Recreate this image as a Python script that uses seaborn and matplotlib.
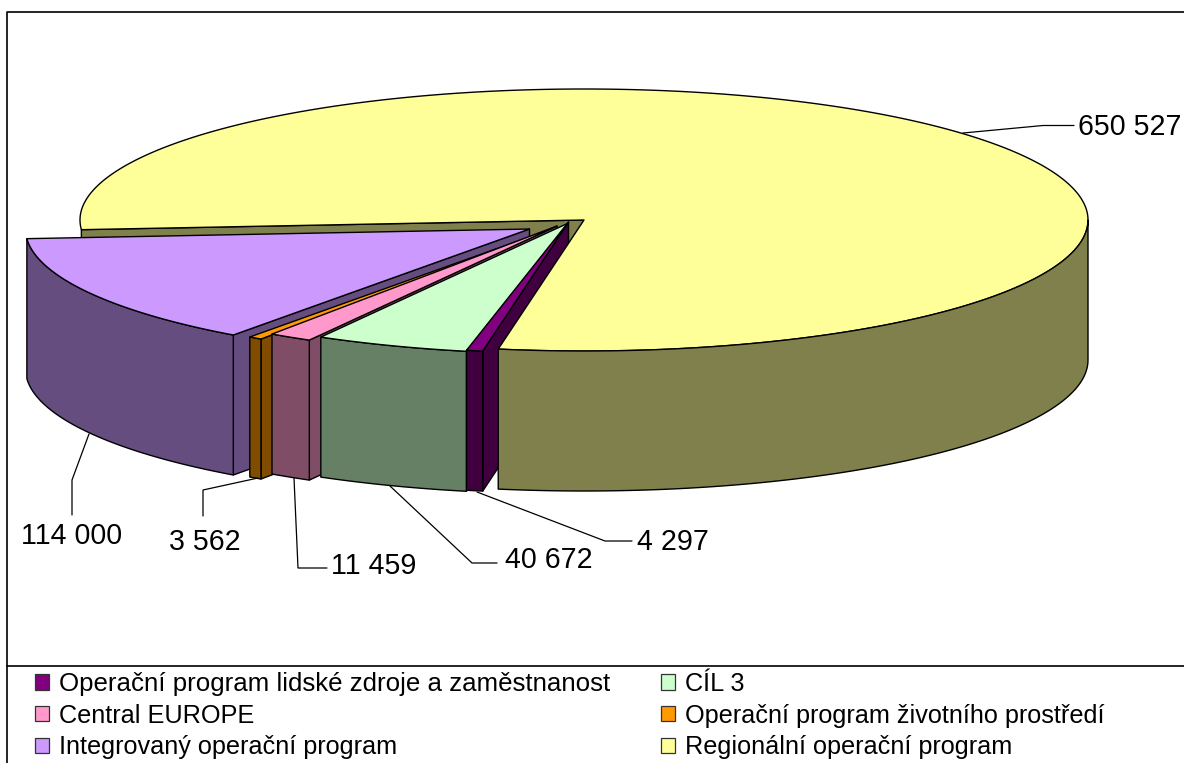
import numpy as np
import matplotlib
matplotlib.use("Agg")
import matplotlib.pyplot as plt
from matplotlib.patches import Polygon, Patch
import seaborn as sns

# ---- data -------------------------------------------------------------
programs = ["Operační program lidské zdroje a zaměstnanost", "CÍL 3", "Central EUROPE",
            "Operační program životního prostředí", "Integrovaný operační program",
            "Regionální operační program"]
values = [4297, 40672, 11459, 3562, 114000, 650527]
value_labels = ["4 297", "40 672", "11 459", "3 562", "114 000", "650 527"]
top_colors = ["#800080", "#CCFFCC", "#FF99CC", "#FF9900", "#CC99FF", "#FFFF99"]

# ---- styling / geometry of the projected 3-D pie -----------------------
slice_centres = [(568.5, 222), (568.5, 223), (557, 226), (546, 231), (529.5, 229), (584, 220)]
start_angle = 189.8      # clockwise from the top
rx, ry, depth = 504, 131, 140
leader_paths = [[(477, 492), (605, 541), (632, 541)],
                [(390, 486), (472, 563), (497, 563)],
                [(294, 478), (298, 568), (327, 568)],
                [(258, 478), (203, 490), (203, 516)],
                [(89, 434), (72, 480), (72, 515)],
                [(963, 133), (1043, 125.5), (1074, 125.5)]]
label_anchor = [(637, 542), (505, 560), (331, 566), (204.5, 542), (72, 536), (1078, 127)]
label_ha = ["left", "left", "left", "center", "center", "left"]

sns.set_theme(style="white")
plt.rcParams["font.family"] = ["Liberation Sans", "DejaVu Sans"]
palette = sns.color_palette(top_colors)
side_colors = [tuple(c * 0.5 for c in col) for col in palette]

fig = plt.figure(figsize=(11.84, 7.63), dpi=100, facecolor="white")
ax = fig.add_axes([0, 0, 1, 1])
ax.set_xlim(0, 1184)
ax.set_ylim(763, 0)
ax.axis("off")


def rim(centre, theta):
    t = np.radians(theta)
    return np.column_stack([centre[0] + rx * np.sin(t), centre[1] - ry * np.cos(t)])


def shape(points, colour, z):
    ax.add_patch(Polygon(points, closed=True, facecolor=colour, edgecolor="black",
                         linewidth=1.0, joinstyle="round", zorder=z))


def drop(points):
    return points + np.array([0, depth])


def arc_wall(centre, a0, a1, colour, z):
    a = np.linspace(a0, a1, 120)
    edge = rim(centre, a)
    shape(np.vstack([edge, drop(edge)[::-1]]), colour, z)


def cut_wall(centre, theta, colour, z):
    outer = rim(centre, np.array([theta]))[0]
    top = np.array([centre, outer], dtype=float)
    shape(np.vstack([top, drop(top)[::-1]]), colour, z)


def top_face(centre, a0, a1, colour, z):
    a = np.linspace(a0, a1, 400)
    shape(np.vstack([[centre], rim(centre, a)]), colour, z)


sweep = np.array(values) / sum(values) * 360
starts = start_angle + np.concatenate([[0], np.cumsum(sweep)[:-1]])
ends = starts + sweep

# back layer: hidden-side walls first, the yellow top then covers what lies behind it
Y, D = 5, 0
cut_wall(slice_centres[Y], starts[Y], side_colors[Y], 1)
for z, i in enumerate([4, 3, 2, 0], start=2):
    cut_wall(slice_centres[i], starts[i], side_colors[i], z)
top_face(slice_centres[Y], starts[Y], ends[Y], palette[Y], 7)
arc_wall(slice_centres[Y], 90, ends[Y] - 360, side_colors[Y], 8)

# front slices, left to right
z = 10
for i in [4, 3, 2, 1, 0]:
    arc_wall(slice_centres[i], starts[i], ends[i], side_colors[i], z)
    top_face(slice_centres[i], starts[i], ends[i], palette[i], z + 1)
    z += 2

# leaders and value labels
for path, text, pos, ha in zip(leader_paths, value_labels, label_anchor, label_ha):
    xs, ys = zip(*path)
    ax.plot(xs, ys, color="black", lw=0.9, zorder=30, solid_joinstyle="miter")
    ax.text(pos[0], pos[1], text, ha=ha, va="center", fontsize=20.6, color="black", zorder=31)

# chart frame and legend separator
ax.plot([7, 7, 1184], [763, 12, 12], color="black", lw=1.2, zorder=40)
ax.plot([7, 1184], [665.5, 665.5], color="black", lw=1.2, zorder=40)

# legend (column-first order)
order = [0, 2, 4, 1, 3, 5]
handles = [Patch(facecolor=palette[i], edgecolor="#333333", linewidth=0.9) for i in order]
leg = ax.legend(handles, [programs[i] for i in order], ncol=2, loc="upper left",
                bbox_to_anchor=(35 / 1184, 1 - 672 / 763), borderaxespad=0, borderpad=0,
                frameon=False, fontsize=18.2, handlelength=0.56, handleheight=0.56,
                handletextpad=0.40, labelspacing=0.30, columnspacing=1.98, labelcolor="black")
leg.get_texts()[0].set_fontsize(18.65)

fig.savefig("out.png", dpi=100, facecolor="white")
